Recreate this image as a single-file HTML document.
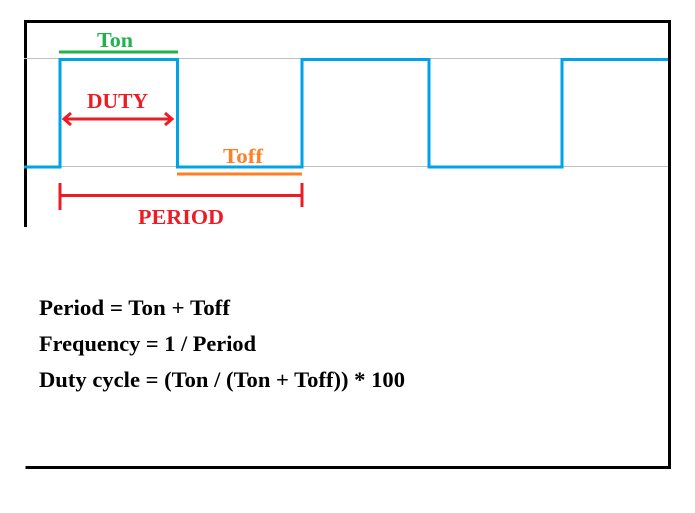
<!DOCTYPE html>
<html><head><style>
body{margin:0;background:#fff}
svg text{font-family:"Liberation Serif",serif;font-weight:bold}
</style></head><body>
<svg width="695" height="508" xmlns="http://www.w3.org/2000/svg">
<rect width="695" height="508" fill="#fff"/>
<path d="M25.5 227 V21.5 H669.5 V469" stroke="#000" stroke-width="3" fill="none"/>
<path d="M25.5 467.5 H669.5" stroke="#000" stroke-width="3"/>
<line x1="24" y1="58.5" x2="668" y2="58.5" stroke="#c0c0c0" stroke-width="1"/>
<line x1="24" y1="166.5" x2="668" y2="166.5" stroke="#c0c0c0" stroke-width="1"/>
<path d="M24 167 H60 V59.5 H177.5 V167 H302 V59.5 H429 V167 H562 V59.5 H668" stroke="#00a2e8" stroke-width="3" fill="none"/>
<line x1="59" y1="52" x2="178" y2="52" stroke="#22b14c" stroke-width="3"/>
<text x="97" y="47" font-size="21" fill="#22b14c" textLength="36" lengthAdjust="spacingAndGlyphs">Ton</text>
<text x="87" y="108" font-size="21" fill="#ed1c24" textLength="61" lengthAdjust="spacingAndGlyphs">DUTY</text>
<line x1="65" y1="119" x2="170" y2="119" stroke="#ed1c24" stroke-width="3"/>
<path d="M71 113 L64 119 L71 125 M165 113 L172 119 L165 125" stroke="#ed1c24" stroke-width="3" fill="none"/>
<text x="223" y="163" font-size="21" fill="#ff7f27" textLength="40" lengthAdjust="spacingAndGlyphs">Toff</text>
<line x1="177" y1="174" x2="302" y2="174" stroke="#ff7f27" stroke-width="3"/>
<line x1="60" y1="195.5" x2="302" y2="195.5" stroke="#ed1c24" stroke-width="3"/>
<line x1="60" y1="183" x2="60" y2="210" stroke="#ed1c24" stroke-width="3"/>
<line x1="302" y1="183" x2="302" y2="207" stroke="#ed1c24" stroke-width="3"/>
<text x="138" y="224" font-size="21" fill="#ed1c24" textLength="86" lengthAdjust="spacingAndGlyphs">PERIOD</text>
<text x="39" y="315" font-size="22" fill="#000" textLength="191" lengthAdjust="spacingAndGlyphs">Period = Ton + Toff</text>
<text x="39" y="351" font-size="22" fill="#000" textLength="217" lengthAdjust="spacingAndGlyphs">Frequency = 1 / Period</text>
<text x="39" y="387" font-size="22" fill="#000" textLength="366" lengthAdjust="spacingAndGlyphs">Duty cycle = (Ton / (Ton + Toff)) * 100</text>
</svg>
</body></html>
